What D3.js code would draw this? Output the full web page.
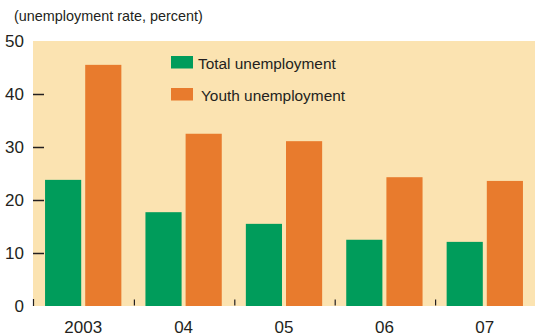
<!DOCTYPE html>
<html><head><meta charset="utf-8">
<script src="https://cdn.jsdelivr.net/npm/d3@7"></script>
<style>body{margin:0;background:#fff}svg{display:block}text{font-family:"Liberation Sans",Arial,sans-serif;fill:#231f20}</style>
</head><body><svg id="c" width="535" height="336"></svg>
<script>
const categories = ["2003","04","05","06","07"];
const totalUnemployment = [23.8, 17.7, 15.5, 12.5, 12.1];
const youthUnemployment = [45.5, 32.5, 31.1, 24.3, 23.6];
const seriesNames = ["Total unemployment","Youth unemployment"];
const yTicks = [0,10,20,30,40,50];
const colors = ["#009c5b","#e87b2d"];

const svg = d3.select("#c");
const m = {l:33, r:0, t:41, b:30};
const W = 535, H = 336;
const x = d3.scaleBand().domain(categories).range([m.l, W-m.r]).paddingInner(0).paddingOuter(0);
const y = d3.scaleLinear().domain([0,50]).range([H-m.b, m.t]);
const sub = d3.scaleBand().domain([0,1]).range([0, x.bandwidth()]).paddingInner(0.1).paddingOuter(0.3);

svg.append("rect").attr("x", m.l).attr("y", y(50)).attr("width", W-m.r-m.l).attr("height", y(0)-y(50)).attr("fill","#fbe3b1");

const data = categories.map((c,i)=>({c, v:[totalUnemployment[i], youthUnemployment[i]]}));
const g = svg.append("g");
data.forEach(d=>{
  d.v.forEach((v,j)=>{
    g.append("rect").attr("x", x(d.c)+sub(j)).attr("width", sub.bandwidth())
      .attr("y", y(v)).attr("height", y(0)-y(v)).attr("fill", colors[j]);
  });
});

// y axis
const ya = svg.append("g").attr("transform",`translate(${m.l},0)`)
  .call(d3.axisRight(y).tickValues(yTicks.filter(t=>t>0&&t<50)).tickSize(11).tickFormat(""));
ya.select(".domain").remove();
ya.selectAll("line").attr("stroke","#231f20").attr("stroke-width",1.5);
svg.selectAll(".ylab").data(yTicks).join("text").attr("class","ylab")
  .attr("x", 24).attr("y", d=>y(d)+6).attr("text-anchor","end").attr("font-size",17).text(d=>d);
// small tick at origin
svg.append("line").attr("x1",m.l+0.5).attr("x2",m.l+0.5).attr("y1",y(0)-7).attr("y2",y(0)).attr("stroke","#231f20").attr("stroke-width",1.2);

// x category separators
const seps = categories.slice(1).map(c=>x(c));
svg.selectAll(".sep").data(seps).join("line").attr("class","sep")
  .attr("x1",d=>d+1).attr("x2",d=>d+1).attr("y1",y(0)-6.5).attr("y2",y(0)-0.5).attr("stroke","#231f20").attr("stroke-width",1.2);

// x labels
const xa = svg.append("g").attr("transform",`translate(0,${H-m.b})`).call(d3.axisBottom(x).tickSize(0).tickPadding(0));
xa.select(".domain").remove();
xa.selectAll("text").attr("font-size",17).attr("dy",null).attr("y",27).attr("fill","#231f20");
xa.attr("font-family",null);

// legend
const lg = svg.append("g");
seriesNames.forEach((n,i)=>{
  lg.append("rect").attr("x",171).attr("y",56+i*32).attr("width",22).attr("height",12.5).attr("fill",colors[i]);
  lg.append("text").attr("x",198+i*3).attr("y",69+i*32).attr("font-size",15.4).text(n);
});

// title
svg.append("text").attr("x",14).attr("y",21).attr("font-size",14.4).text("(unemployment rate, percent)");
</script></body></html>
